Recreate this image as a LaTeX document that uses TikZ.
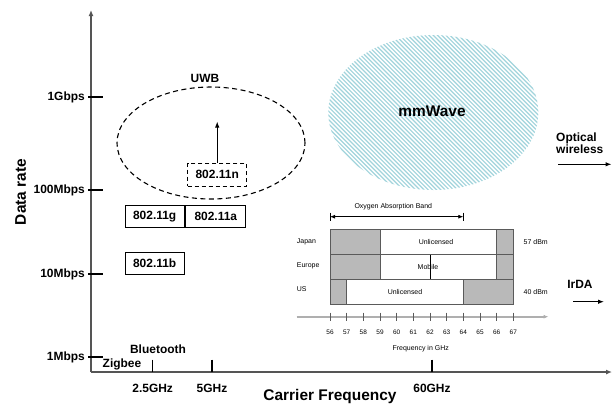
\documentclass[tikz,border=0pt]{standalone}
\usepackage{fontspec}
\setmainfont{Liberation Sans}
\usetikzlibrary{arrows.meta}
\definecolor{axgray}{RGB}{85,85,85}
\definecolor{cellgray}{RGB}{185,185,185}
\definecolor{chartline}{RGB}{90,90,90}
\definecolor{hatchcol}{RGB}{162,212,220}
\definecolor{faxis}{RGB}{175,175,175}
\begin{document}
\begin{tikzpicture}[x=1bp,y=-1bp,
  lbl/.style={font=\fontsize{12}{14}\selectfont\bfseries, inner sep=0pt},
  big/.style={font=\fontsize{15.5}{18}\selectfont\bfseries, inner sep=0pt},
  sm/.style={font=\fontsize{7}{8}\selectfont, inner sep=0pt},
  tiny/.style={font=\fontsize{6.5}{7}\selectfont, inner sep=0pt},
  wbox/.style={draw=black, line width=1bp, minimum height=22bp, inner sep=0pt, font=\fontsize{12}{14}\selectfont\bfseries},
  axisline/.style={draw=axgray, line width=1.8bp, -{Latex[length=6bp,width=5bp]}},
  tickline/.style={draw=black, line width=1.2bp},
  arr/.style={draw=black, line width=1bp, -{Latex[length=6bp,width=4.5bp]}},
  gcell/.style={fill=cellgray, draw=chartline, line width=0.6bp},
  wcell/.style={fill=white, draw=chartline, line width=0.6bp},
  hatch/.style={draw=hatchcol, line width=1.2bp},
]
\useasboundingbox (0,0) rectangle (613,404);
\fill[white] (0,0) rectangle (613,404);

% ---- mmWave hatched ellipse
\begin{scope}
  \clip (433.3,112.5) ellipse [x radius=105bp, y radius=77.5bp];
  \foreach \i in {0,...,92} \draw[hatch] (155+\i*4.2,30) -- ++(170,170);
\end{scope}
\node[big] (mmw) at (432,111) {mmWave};

% ---- axes
\coordinate (O) at (91,372);
\coordinate (ytop) at (91,10);
\coordinate (xend) at (612,372);
\draw[axisline] (O) -- (ytop);
\draw[axisline] (O) -- (xend);

% y ticks
\foreach \n/\y/\t in {g/97/1Gbps, h/190/100Mbps, t/274/10Mbps, m/357/1Mbps}{
  \coordinate (yt\n a) at (88,\y);
  \coordinate (yt\n b) at (103,\y);
  \draw[tickline] (yt\n a) -- (yt\n b);
  \node[lbl, anchor=east] (yl\n) at (85,\y) {\t};
}
\node[big, rotate=90] (ylab) at (20.7,192) {Data rate};

% x ticks
\foreach \n/\x/\t in {a/152.7/2.5GHz, b/212/5GHz, c/432/60GHz}{
  \coordinate (xt\n a) at (\x,359.5);
  \coordinate (xt\n b) at (\x,372);
  \draw[tickline] (xt\n a) -- (xt\n b);
  \node[lbl] (xl\n) at (\x,388.5) {\t};
}
\node[big] (xlab) at (330,396) {Carrier Frequency};
\node[lbl] (bt) at (158,349) {Bluetooth};
\node[lbl] (zb) at (122,364.5) {Zigbee};

% ---- UWB
\draw[black, line width=1.1bp, dash pattern=on 5bp off 3.5bp] (211,143) ellipse [x radius=94bp, y radius=56bp];
\node[lbl] (uwb) at (205,78) {UWB};
\node[wbox, dashed, dash pattern=on 4bp off 3bp, minimum width=59bp, minimum height=22.7bp] (n) at (217.2,174.7) {802.11n};
\coordinate (ntip) at (217.2,121.5);
\draw[arr] (n) -- (ntip);
\node[wbox, minimum width=58.7bp] (g) at (154.7,216.2) {802.11g};
\node[wbox, minimum width=59.7bp] (a) at (215.8,216.2) {802.11a};
\node[wbox, minimum width=58.7bp] (b) at (154.7,263.3) {802.11b};

% ---- Optical wireless / IrDA
\node[lbl, anchor=west, align=left] (opt) at (556,143) {Optical\\[-1.5bp]wireless};
\coordinate (opa) at (558,164.3);
\coordinate (opb) at (611.5,164.3);
\draw[arr] (opa) -- (opb);
\node[lbl] (irda) at (580,284.3) {IrDA};
\coordinate (ira) at (573.3,301.7);
\coordinate (irb) at (604,301.7);
\draw[arr] (ira) -- (irb);

% ---- 60 GHz band chart
% Japan row
\path[gcell] (330,229.5) rectangle (380,254.5);
\path[wcell] (380,229.5) rectangle (496.7,254.5);
\path[gcell] (496.7,229.5) rectangle (513.3,254.5);
% Europe row
\path[gcell] (330,254.5) rectangle (380,279.5);
\path[wcell] (380,254.5) rectangle (496.7,279.5);
\path[gcell] (496.7,254.5) rectangle (513.3,279.5);
\draw[black, line width=1bp] (430,254.5) -- (430,279.5);
% US row
\path[gcell] (330,279.5) rectangle (346.7,304.5);
\path[wcell] (346.7,279.5) rectangle (463.3,304.5);
\path[gcell] (463.3,279.5) rectangle (513.3,304.5);

\node[sm] (u1) at (436,241.7) {Unlicensed};
\node[sm] (mob) at (428,266.5) {Mobile};
\node[sm] (u2) at (405,291.5) {Unlicensed};
\node[sm, anchor=west] (jp) at (296.7,241.7) {Japan};
\node[sm, anchor=west] (eu) at (296.7,266) {Europe};
\node[sm, anchor=west] (us) at (296.7,289.5) {US};
\node[sm] (d57) at (535.7,241.7) {57 dBm};
\node[sm] (d40) at (535.7,291.5) {40 dBm};

% oxygen band
\node[sm] (oxy) at (393.3,206.7) {Oxygen Absorption Band};
\coordinate (oxa) at (330,216.7);
\coordinate (oxb) at (463.3,216.7);
\draw[black, line width=0.8bp, {Latex[length=5bp,width=4bp]}-{Latex[length=5bp,width=4bp]}] (oxa) -- (oxb);
\draw[black, line width=0.7bp] (330,212.5) -- (330,221);
\draw[black, line width=0.7bp] (463.3,212.5) -- (463.3,221);

% frequency axis
\coordinate (fa) at (296.7,316.7);
\coordinate (fb) at (548.5,316.7);
\draw[faxis, line width=1.6bp, -{Latex[length=5bp,width=4bp,fill=black]}] (fa) -- (fb);
\foreach \g in {56,...,67}{
  \pgfmathsetmacro{\xx}{330+(\g-56)*16.667}
  \draw[chartline, line width=0.6bp] (\xx,312.5) -- (\xx,320.8);
  \node[tiny] (f\g) at (\xx,332) {\g};
}
\node[sm] (fig) at (420.7,349) {Frequency in GHz};
\end{tikzpicture}
\end{document}
